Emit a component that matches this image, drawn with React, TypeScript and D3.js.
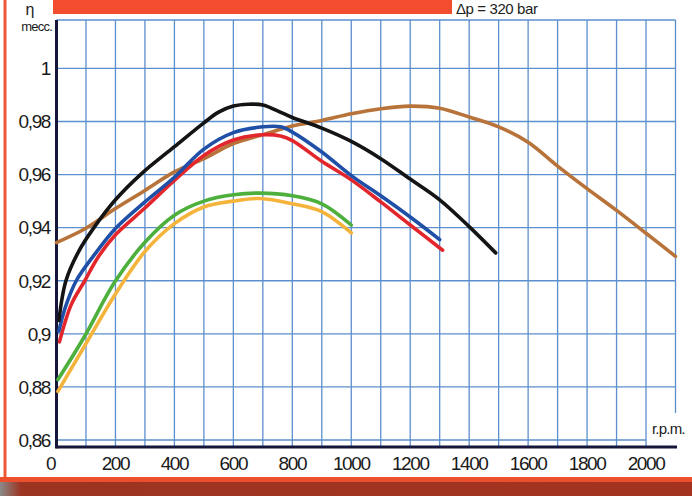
import React from "react";
import * as d3 from "d3";

// Axis ticks
const rpmTicks = [0, 200, 400, 600, 800, 1000, 1200, 1400, 1600, 1800, 2000];
const rpmGrid = d3.range(100, 2001, 100);
const etaTicks = [0.86, 0.88, 0.9, 0.92, 0.94, 0.96, 0.98, 1];
const etaTickLabels = ["0,86", "0,88", "0,9", "0,92", "0,94", "0,96", "0,98", "1"];

// Mechanical efficiency curves: [rpm, eta]
const brownCurve: [number, number][] = [
  [0, 0.9344], [100, 0.9398], [200, 0.9472], [300, 0.954], [400, 0.961],
  [500, 0.966], [600, 0.9717], [700, 0.975], [800, 0.9783], [900, 0.9804],
  [1000, 0.9829], [1100, 0.9848], [1200, 0.9858], [1300, 0.985], [1400, 0.9817],
  [1500, 0.978], [1600, 0.9722], [1700, 0.9632], [1800, 0.9547], [1900, 0.9465],
  [2000, 0.9379], [2100, 0.9292],
];
const yellowCurve: [number, number][] = [
  [5, 0.8783], [100, 0.8963], [200, 0.915], [300, 0.931], [400, 0.9415],
  [500, 0.9478], [600, 0.95], [690, 0.951], [800, 0.949], [900, 0.946], [1000, 0.938],
];
const greenCurve: [number, number][] = [
  [5, 0.8828], [95, 0.899], [197, 0.9194], [300, 0.9345], [400, 0.9447],
  [500, 0.95], [600, 0.9524], [690, 0.953], [800, 0.952], [900, 0.949], [1000, 0.941],
];
const redCurve: [number, number][] = [
  [10, 0.897], [50, 0.911], [96, 0.92], [140, 0.9287], [200, 0.9373],
  [300, 0.9474], [400, 0.9578], [500, 0.9672], [600, 0.973], [700, 0.975],
  [760, 0.9745], [800, 0.9728], [900, 0.965], [1000, 0.958], [1100, 0.9497],
  [1200, 0.941], [1310, 0.9315],
];
const blueCurve: [number, number][] = [
  [8, 0.901], [30, 0.91], [67, 0.92], [130, 0.93], [200, 0.9397],
  [300, 0.9497], [400, 0.959], [500, 0.9696], [600, 0.9758], [700, 0.978],
  [760, 0.978], [800, 0.976], [900, 0.9685], [1000, 0.9596], [1100, 0.952],
  [1200, 0.944], [1300, 0.9355],
];
const blackCurve: [number, number][] = [
  [8, 0.905], [32, 0.92], [75, 0.931], [127, 0.94], [200, 0.9505],
  [285, 0.96], [400, 0.9705], [500, 0.9795], [550, 0.9835],
  [600, 0.9858], [650, 0.9865], [700, 0.9862], [750, 0.984], [800, 0.9815],
  [900, 0.9775], [1000, 0.9725], [1100, 0.966], [1200, 0.9583], [1300, 0.9505],
  [1400, 0.9404], [1490, 0.9305],
];

const curves = [
  { data: brownCurve, color: "#b8733a" },
  { data: yellowCurve, color: "#f4b43c" },
  { data: greenCurve, color: "#4daf3c" },
  { data: redCurve, color: "#e3262c" },
  { data: blueCurve, color: "#1f4fa6" },
  { data: blackCurve, color: "#141414" },
];

const W = 692;
const H = 496;
const plotTop = 20;
const plotBottom = 447;

const x = d3.scaleLinear().domain([0, 2100]).range([56.5, 675.5]);
const y = d3.scaleLinear().domain([0.86, 1]).range([440, 68.4]);

const line = d3
  .line<[number, number]>()
  .x((d) => x(d[0]))
  .y((d) => y(d[1]))
  .curve(d3.curveCatmullRom.alpha(0.5));

const labelFont = "'Liberation Sans', Arial, sans-serif";
const gridColor = "#4b83c8";
const axisColor = "#16163a";

export default function App() {
  return (
    <svg
      width={W}
      height={H}
      viewBox={`0 0 ${W} ${H}`}
      style={{ position: "absolute", left: 0, top: 0, background: "#fff" }}
    >
      <defs>
        <linearGradient id="bandShade" x1="0" x2="1" y1="0" y2="0">
          <stop offset="0" stopColor="#8a8a8a" />
          <stop offset="0.03" stopColor="#9c3422" />
          <stop offset="1" stopColor="#a3331f" />
        </linearGradient>
      </defs>
      <rect width={W} height={H} fill="#fff" />

      {/* frame */}
      <rect x={3.5} y={0} width={3} height={480} fill="#ee5a36" />
      <rect x={0} y={477} width={W} height={5} fill="#ec4f2c" />
      <rect x={0} y={482} width={W} height={14} fill="url(#bandShade)" />
      <rect x={53} y={0} width={399} height={14} fill="#f24d2e" />

      <text
        x={456}
        y={14}
        fontFamily={labelFont}
        fontSize={15}
        letterSpacing={-0.4}
        fill="#222"
      >
        Δp = 320 bar
      </text>

      {/* grid */}
      <g stroke={gridColor} strokeWidth={1.3} opacity={0.9}>
        {rpmGrid.map((r) => (
          <line key={r} x1={x(r)} x2={x(r)} y1={plotTop} y2={plotBottom} />
        ))}
        <line x1={x(2100)} x2={x(2100)} y1={plotTop} y2={413} />
        <line x1={x(0)} x2={x(2100)} y1={plotTop} y2={plotTop} />
        {etaTicks.map((v) => (
          <line
            key={v}
            x1={x(0)}
            x2={v === 0.86 ? x(2000) : x(2100)}
            y1={y(v)}
            y2={y(v)}
          />
        ))}
      </g>

      {/* axes */}
      <line x1={x(0)} x2={x(0)} y1={plotTop} y2={plotBottom + 1.5} stroke={axisColor} strokeWidth={3} />
      <line x1={x(0)} x2={677} y1={plotBottom} y2={plotBottom} stroke={axisColor} strokeWidth={3} />

      {/* curves */}
      <g fill="none" strokeWidth={3.6} strokeLinejoin="round" strokeLinecap="round">
        {curves.map((c, i) => (
          <path key={i} d={line(c.data) ?? ""} stroke={c.color} />
        ))}
      </g>

      {/* tick labels */}
      <g fontFamily={labelFont} fontSize={19} letterSpacing={-1.4} fill="#1a1a1a">
        {etaTicks.map((v, i) => (
          <text key={v} x={50} y={y(v)} dy="0.36em" textAnchor="end">
            {etaTickLabels[i]}
          </text>
        ))}
        {rpmTicks.map((r) => (
          <text key={r} x={x(r) + (r === 0 ? -6 : 0)} y={470} textAnchor="middle">
            {r}
          </text>
        ))}
      </g>

      {/* axis titles */}
      <text x={30} y={15} fontFamily={labelFont} fontSize={16} textAnchor="middle" fill="#1a1a1a">
        η
      </text>
      <text x={52} y={31} fontFamily={labelFont} fontSize={13} letterSpacing={-0.8} textAnchor="end" fill="#1a1a1a">
        mecc.
      </text>
      <text x={652} y={434} fontFamily={labelFont} fontSize={15} letterSpacing={-0.8} fill="#1a1a1a">
        r.p.m.
      </text>
    </svg>
  );
}
